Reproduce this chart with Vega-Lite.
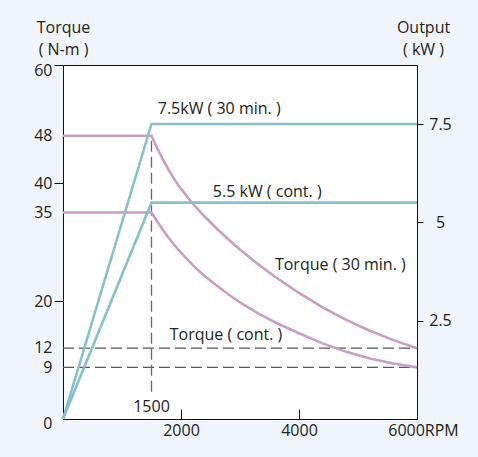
{
  "$schema": "https://vega.github.io/schema/vega-lite/v6.json",
  "width": 354,
  "height": 354,
  "autosize": {"type": "none"},
  "padding": {"left": 63, "top": 65, "right": 61, "bottom": 38},
  "background": "#eff5fa",
  "config": {
    "view": {"stroke": "#111", "strokeWidth": 1, "fill": "white"},
    "axis": {"domainColor": "#111", "tickColor": "#111", "labelColor": "#222", "titleColor": "#222", "labelFont": "Open Sans", "titleFont": "Open Sans", "labelFontSize": 16, "titleFontSize": 16, "titleFontWeight": "normal", "grid": false},
    "text": {"font": "Open Sans", "fontSize": 16, "color": "#222"}
  },
  "datasets": {
    "torque": [
      {"series": "30min", "rpm": 0, "torque": 48}, {"series": "30min", "rpm": 1500, "torque": 48}, {"series": "30min", "rpm": 1600, "torque": 45.84}, {"series": "30min", "rpm": 1700, "torque": 43.86}, {"series": "30min", "rpm": 1800, "torque": 42.06}, {"series": "30min", "rpm": 1900, "torque": 40.44}, {"series": "30min", "rpm": 2000, "torque": 39}, {"series": "30min", "rpm": 2200, "torque": 36.48}, {"series": "30min", "rpm": 2400, "torque": 34.32}, {"series": "30min", "rpm": 2600, "torque": 32.34}, {"series": "30min", "rpm": 2800, "torque": 30.47}, {"series": "30min", "rpm": 3000, "torque": 28.74}, {"series": "30min", "rpm": 3300, "torque": 26.29}, {"series": "30min", "rpm": 3600, "torque": 24.06}, {"series": "30min", "rpm": 4000, "torque": 21.36}, {"series": "30min", "rpm": 4400, "torque": 18.91}, {"series": "30min", "rpm": 4800, "torque": 16.79}, {"series": "30min", "rpm": 5200, "torque": 14.95}, {"series": "30min", "rpm": 5600, "torque": 13.37}, {"series": "30min", "rpm": 6000, "torque": 12},
      {"series": "cont", "rpm": 0, "torque": 35}, {"series": "cont", "rpm": 1500, "torque": 35}, {"series": "cont", "rpm": 1600, "torque": 33.43}, {"series": "cont", "rpm": 1700, "torque": 31.96}, {"series": "cont", "rpm": 1800, "torque": 30.59}, {"series": "cont", "rpm": 1900, "torque": 29.33}, {"series": "cont", "rpm": 2000, "torque": 28.18}, {"series": "cont", "rpm": 2200, "torque": 26.08}, {"series": "cont", "rpm": 2400, "torque": 24.24}, {"series": "cont", "rpm": 2600, "torque": 22.66}, {"series": "cont", "rpm": 2800, "torque": 21.14}, {"series": "cont", "rpm": 3000, "torque": 19.78}, {"series": "cont", "rpm": 3300, "torque": 17.94}, {"series": "cont", "rpm": 3600, "torque": 16.36}, {"series": "cont", "rpm": 4000, "torque": 14.53}, {"series": "cont", "rpm": 4400, "torque": 12.82}, {"series": "cont", "rpm": 4800, "torque": 11.38}, {"series": "cont", "rpm": 5200, "torque": 10.27}, {"series": "cont", "rpm": 5600, "torque": 9.41}, {"series": "cont", "rpm": 6000, "torque": 8.75}
    ],
    "power": [
      {"series": "30min", "rpm": 0, "kw": 0}, {"series": "30min", "rpm": 1500, "kw": 7.5}, {"series": "30min", "rpm": 6000, "kw": 7.5},
      {"series": "cont", "rpm": 0, "kw": 0}, {"series": "cont", "rpm": 1500, "kw": 5.5}, {"series": "cont", "rpm": 6000, "kw": 5.5}
    ],
    "hrefs": [{"rpm0": 0, "rpm1": 6000, "torque": 12}, {"rpm0": 0, "rpm1": 6000, "torque": 8.75}],
    "vref": [{"rpm": 1500, "y1": 4.6, "y2": 48}],
    "labels": [
      {"text": "7.5kW ( 30 min. )", "rpm": 1606, "torque": 51.7},
      {"text": "5.5 kW ( cont. )", "rpm": 2540, "torque": 37.7},
      {"text": "Torque ( 30 min. )", "rpm": 3592, "torque": 25.3},
      {"text": "Torque ( cont. )", "rpm": 1810, "torque": 13.4}
    ],
    "xlabel": [{"text": "1500", "rpm": 1500, "torque": 1.2}]
  },
  "layer": [
    {
      "layer": [
        {
          "data": {"name": "hrefs"},
          "mark": {"type": "rule", "color": "#555", "strokeWidth": 1.3, "strokeDash": [11, 5]},
          "encoding": {
            "x": {"field": "rpm0", "type": "quantitative", "scale": {"domain": [0, 6000]},
              "axis": {"values": [2000, 4000, 6000], "format": "d", "title": null, "tickSize": -10, "labelPadding": 13, "labelFlush": false,
                "labelExpr": "datum.value == 6000 ? '6000RPM' : datum.label",
                "labelOffset": {"condition": {"test": "datum.value == 6000", "value": 6}, "value": 0}}},
            "x2": {"field": "rpm1"},
            "y": {"field": "torque", "type": "quantitative", "scale": {"domain": [0, 60]},
              "axis": {"orient": "left", "values": [0, 9, 12, 20, 35, 40, 48, 60], "tickSize": 9, "labelPadding": 2, "labelFlush": false,
                "tickOpacity": {"condition": {"test": "datum.value == 20 || datum.value == 40 || datum.value == 60", "value": 1}, "value": 0},
                "labelOffset": {"condition": [{"test": "datum.value == 60", "value": 5}, {"test": "datum.value == 0", "value": 4}, {"test": "datum.value == 9", "value": 2}, {"test": "datum.value == 12", "value": -1}], "value": 0},
                "title": ["Torque", "( N-m )"], "titleAngle": 0, "titleAlign": "center", "titleBaseline": "alphabetic", "titleX": 0, "titleY": -33, "titleLineHeight": 22}}
          }
        },
        {
          "data": {"name": "vref"},
          "mark": {"type": "rule", "color": "#666", "strokeWidth": 1.3, "strokeDash": [11, 5]},
          "encoding": {
            "x": {"field": "rpm", "type": "quantitative"},
            "y": {"field": "y1", "type": "quantitative"},
            "y2": {"field": "y2"}
          }
        },
        {
          "data": {"name": "torque"},
          "mark": {"type": "line", "color": "#cc9cc4", "strokeWidth": 2.6},
          "encoding": {
            "x": {"field": "rpm", "type": "quantitative"},
            "y": {"field": "torque", "type": "quantitative"},
            "detail": {"field": "series"}
          }
        },
        {
          "data": {"name": "labels"},
          "mark": {"type": "text", "baseline": "alphabetic", "align": "left"},
          "encoding": {
            "x": {"field": "rpm", "type": "quantitative"},
            "y": {"field": "torque", "type": "quantitative"},
            "text": {"field": "text"}
          }
        },
        {
          "data": {"name": "xlabel"},
          "mark": {"type": "text", "baseline": "alphabetic", "align": "center"},
          "encoding": {
            "x": {"field": "rpm", "type": "quantitative"},
            "y": {"field": "torque", "type": "quantitative"},
            "text": {"field": "text"}
          }
        }
      ]
    },
    {
      "data": {"name": "power"},
      "mark": {"type": "line", "color": "#86c0cf", "strokeWidth": 2.6},
      "encoding": {
        "x": {"field": "rpm", "type": "quantitative"},
        "y": {"field": "kw", "type": "quantitative", "scale": {"domain": [0, 9]},
          "axis": {"orient": "right", "values": [2.5, 5, 7.5], "format": ".1~f", "tickSize": 6, "labelAlign": "center", "labelPadding": 17, "labelFlush": false,
            "title": ["Output", "( kW )"], "titleAngle": 0, "titleAlign": "center", "titleBaseline": "alphabetic", "titleX": 6, "titleY": -33, "titleLineHeight": 22}},
        "detail": {"field": "series"}
      }
    }
  ],
  "resolve": {"scale": {"y": "independent"}}
}
